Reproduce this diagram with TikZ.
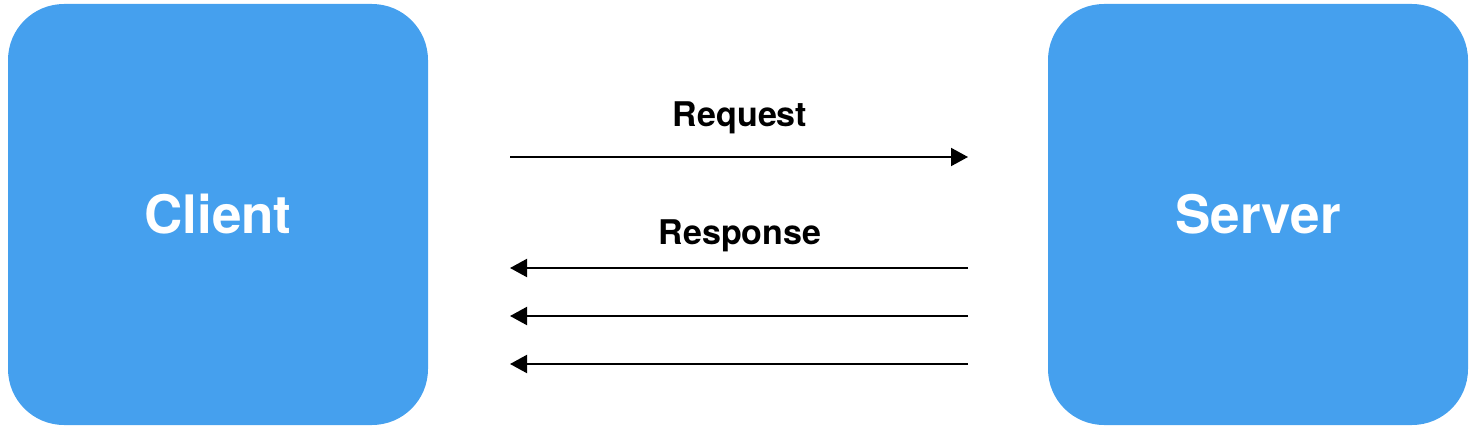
\documentclass[tikz,border=0pt]{standalone}
\usepackage{fontspec}
\setmainfont{TeX Gyre Heros}
\usepackage{tikz}
\usetikzlibrary{arrows.meta,positioning}
\definecolor{boxblue}{RGB}{69,160,238}

\begin{document}
\begin{tikzpicture}[x=1pt,y=1pt,
        party/.style={rectangle,rounded corners=56pt,fill=boxblue,minimum width=420pt,minimum height=421pt,text=white,font=\fontsize{53}{60}\selectfont\bfseries},
        msg/.style={line width=2pt,-{Triangle[length=17pt,width=18pt]}},
        msglabel/.style={font=\fontsize{34}{40}\selectfont\bfseries,inner sep=0pt}]
        \useasboundingbox (0,0) rectangle (1478,440);

        \node [party] (client) at (218,225.5) {Client};
        \node [party] (server) at (1258,225.5) {Server};

        % end points of the messages
        \coordinate (reqL) at (510,283);
        \coordinate (reqR) at (968,283);
        \foreach \i/\y in {1/172,2/124,3/76} {
            \coordinate (resL\i) at (510,\y);
            \coordinate (resR\i) at (968,\y);
        }

        \draw [msg] (reqL) -- (reqR);
        \foreach \i in {1,2,3} {
            \draw [msg] (resR\i) -- (resL\i);
        }

        \node [msglabel] (request) at (740,322) {Request};
        \node [msglabel] (response) at (740,204) {Response};
    \end{tikzpicture}
\end{document}
